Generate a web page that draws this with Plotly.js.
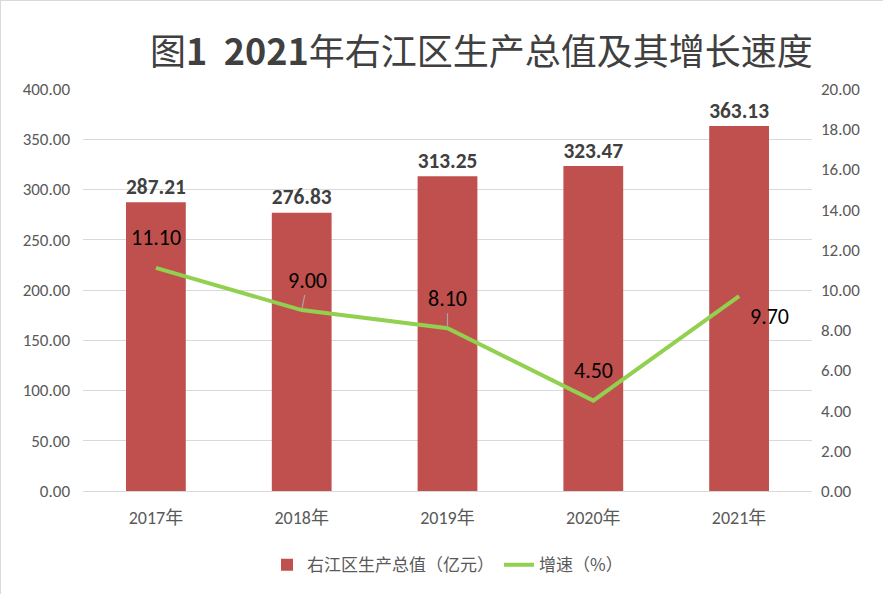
<!DOCTYPE html>
<html>
<head>
<meta charset="utf-8">
<script src="https://cdn.plot.ly/plotly-3.0.1.min.js"></script>
<style>
  html,body{margin:0;padding:0;background:#fff;}
  #chart{width:883px;height:594px;box-sizing:border-box;border:1px solid #d9d9d9;}
</style>
</head>
<body>
<div id="chart"></div>
<script>
// ── 数据 ─────────────────────────────────────────────
const years = ['2017年','2018年','2019年','2020年','2021年'];
const gdp = [287.21, 276.83, 313.25, 323.47, 363.13];   // 亿元
const growth = [11.10, 9.00, 8.10, 4.50, 9.70];          // %

const FONT = 'Calibri, Carlito, "Noto Sans CJK SC", "Noto Sans", sans-serif';
const CJK = '"Noto Sans CJK SC", sans-serif';
const GRAY = '#595959';

// 折线标签偏移（像素）：[dx, dy, 引线]
const lblOff = [[0,-30,false],[6,-30,true],[0,-30,true],[0,-30,false],[30,20,false]];

const traces = [
  {x:years, y:gdp, type:'bar', name:'右江区生产总值（亿元）',
   marker:{color:'#c0504d'},
   text:gdp.map(v=>v.toFixed(2)), textposition:'outside', cliponaxis:false,
   textfont:{family:FONT, size:24, color:'#404040', weight:'bold'},
   hoverinfo:'x+y'},
  {x:years, y:growth, type:'scatter', mode:'lines', name:'增速（%）', yaxis:'y2',
   line:{color:'#92d050', width:4}}
];

const annos = growth.map((v,i)=>({
  x:years[i], y:v, xref:'x', yref:'y2',
  text:v.toFixed(2), showarrow:lblOff[i][2],
  arrowhead:0, arrowwidth:1.2, arrowcolor:'#a6a6a6', standoff:2,
  ax:lblOff[i][0], ay:lblOff[i][1],
  xshift: lblOff[i][2]?0:lblOff[i][0], yshift: lblOff[i][2]?0:-lblOff[i][1],
  font:{family:FONT, size:22, color:'#000'}
}));

const layout = {
  width:883, height:594,
  paper_bgcolor:'#fff', plot_bgcolor:'#fff',
  margin:{l:82, r:72, t:88, b:97},
  title:{text:'图<b>1  2021</b>年右江区生产总值及其增长速度', x:0.544, xanchor:'center', y:0.935,
         font:{family:CJK, size:36, color:'#404040'}},
  bargap:0.59,
  showlegend:true,
  legend:{orientation:'h', x:0.5, xanchor:'center', y:-0.14, yanchor:'top',
          font:{family:CJK, size:17, color:GRAY}},
  xaxis:{tickfont:{family:FONT, size:18, color:GRAY}, showline:true, linecolor:'#d9d9d9',
         linewidth:1, ticks:'', ticklabelstandoff:10, fixedrange:true},
  yaxis:{range:[0,400], dtick:50, tickformat:'.2f', showgrid:true, gridcolor:'#d9d9d9',
         zeroline:false, tickfont:{family:FONT, size:17, color:GRAY}, ticks:'', ticklabelstandoff:12},
  yaxis2:{range:[0,20], dtick:2, tickformat:'.2f', overlaying:'y', side:'right',
          showgrid:false, zeroline:false, tickfont:{family:FONT, size:17, color:GRAY}, ticks:'', ticklabelstandoff:8},
  annotations:annos
};

Plotly.newPlot('chart', traces, layout, {displayModeBar:false, staticPlot:true});
</script>
</body>
</html>
